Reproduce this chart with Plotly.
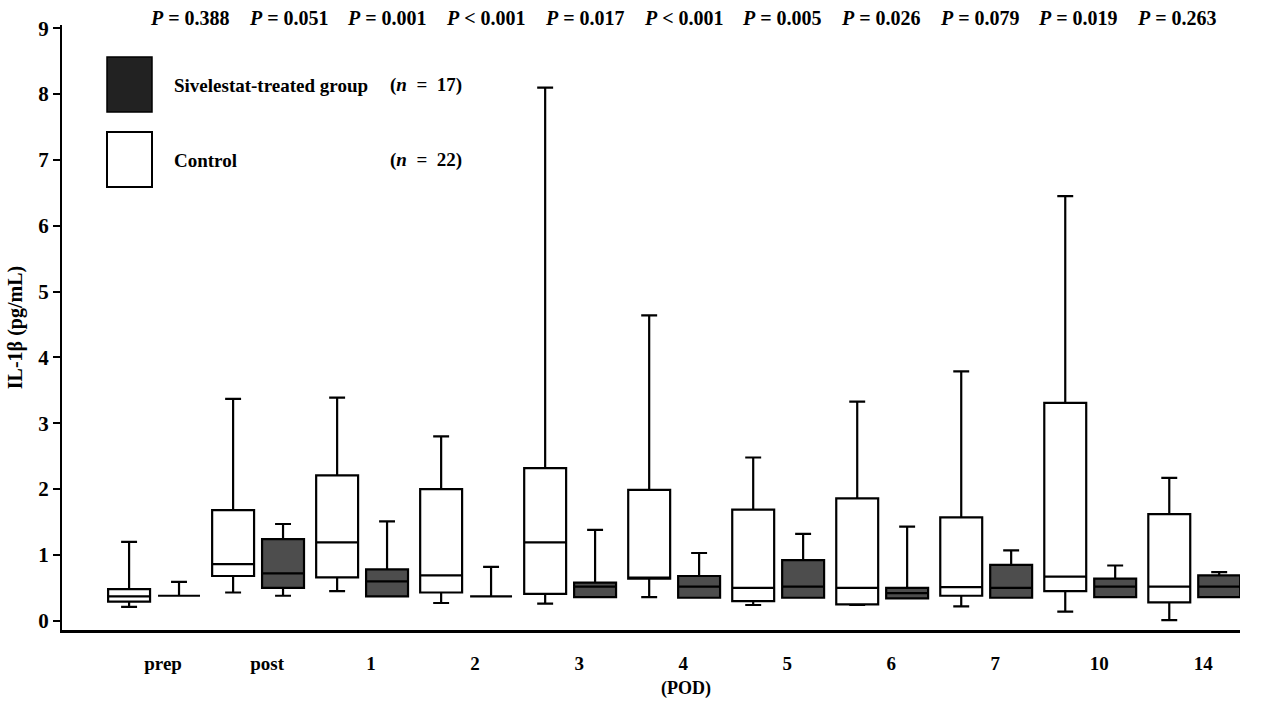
import plotly.graph_objects as go

# Post-operative day categories
days = ["prep", "post", "1", "2", "3", "4", "5", "6", "7", "10", "14"]

# Control group (n = 22): whisker ends, quartiles, median  (IL-1β, pg/mL)
ctrl_upper = [1.20, 3.37, 3.39, 2.80, 8.10, 4.64, 2.48, 3.33, 3.79, 6.45, 2.17]
ctrl_q3 = [0.48, 1.68, 2.21, 2.00, 2.32, 1.99, 1.69, 1.86, 1.57, 3.31, 1.62]
ctrl_median = [0.37, 0.86, 1.19, 0.69, 1.19, 0.64, 0.50, 0.50, 0.51, 0.67, 0.52]
ctrl_q1 = [0.29, 0.68, 0.66, 0.43, 0.41, 0.64, 0.30, 0.25, 0.38, 0.45, 0.28]
ctrl_lower = [0.21, 0.43, 0.45, 0.27, 0.26, 0.36, 0.24, 0.24, 0.22, 0.14, 0.01]

# Sivelestat-treated group (n = 17)
siv_upper = [0.59, 1.47, 1.51, 0.82, 1.38, 1.03, 1.32, 1.43, 1.07, 0.84, 0.74]
siv_q3 = [0.38, 1.24, 0.78, 0.37, 0.58, 0.68, 0.92, 0.50, 0.85, 0.64, 0.69]
siv_median = [0.38, 0.72, 0.60, 0.37, 0.52, 0.52, 0.52, 0.42, 0.50, 0.52, 0.52]
siv_q1 = [0.38, 0.50, 0.37, 0.37, 0.36, 0.35, 0.35, 0.34, 0.35, 0.36, 0.36]
siv_lower = [0.38, 0.38, 0.37, 0.37, 0.36, 0.35, 0.35, 0.34, 0.35, 0.36, 0.36]

# Between-group P values for each day
p_values = ["= 0.388", "= 0.051", "= 0.001", "< 0.001", "= 0.017", "< 0.001",
            "= 0.005", "= 0.026", "= 0.079", "= 0.019", "= 0.263"]

FONT = "Liberation Serif, Times New Roman, serif"
W, H = 1267, 708
ML, MR, MT, MB = 62, 27, 25, 78
plot_w = W - ML - MR
plot_h = H - MT - MB


def px2paper_x(px):
    return (px - ML) / plot_w


def py2paper_y(py):
    return 1 - (py - MT) / plot_h


fig = go.Figure()

fig.add_trace(go.Box(
    name="Control", x=days,
    q1=ctrl_q1, median=ctrl_median, q3=ctrl_q3,
    lowerfence=ctrl_lower, upperfence=ctrl_upper,
    boxpoints=False, fillcolor="white",
    line=dict(color="black", width=2.2), whiskerwidth=0.38,
    showlegend=False, hoverinfo="skip",
))
fig.add_trace(go.Box(
    name="Sivelestat", x=days,
    q1=siv_q1, median=siv_median, q3=siv_q3,
    lowerfence=siv_lower, upperfence=siv_upper,
    boxpoints=False, fillcolor="#4d4d4d",
    line=dict(color="black", width=2.2), whiskerwidth=0.38,
    showlegend=False, hoverinfo="skip",
))

# P-value row across the top
for i, p in enumerate(p_values):
    px = 190 + i * 98.7
    fig.add_annotation(
        x=px2paper_x(px), xref="paper", y=py2paper_y(18), yref="paper",
        yanchor="middle", xanchor="center", showarrow=False,
        text=f"<i>P</i> {p}",
        font=dict(family=FONT, size=20, color="black", weight="bold"),
    )

# Legend swatches and labels
fig.add_shape(type="rect", xref="paper", yref="paper",
              x0=px2paper_x(107), x1=px2paper_x(152), y0=py2paper_y(112), y1=py2paper_y(57),
              fillcolor="#222222", line=dict(color="black", width=1.5))
fig.add_shape(type="rect", xref="paper", yref="paper",
              x0=px2paper_x(107), x1=px2paper_x(152), y0=py2paper_y(187), y1=py2paper_y(132),
              fillcolor="white", line=dict(color="black", width=2))
for txt, xpx, ypx in [("Sivelestat-treated group", 172, 85), ("(<i>n</i>  =  17)", 388, 85),
                      ("Control", 172, 160), ("(<i>n</i>  =  22)", 388, 160)]:
    fig.add_annotation(x=px2paper_x(xpx), y=py2paper_y(ypx), xref="paper", yref="paper",
                       xanchor="left", yanchor="middle", showarrow=False, text=txt,
                       font=dict(family=FONT, size=19, color="black", weight="bold"))

# x-axis title
fig.add_annotation(x=px2paper_x(686), y=py2paper_y(688), xref="paper", yref="paper",
                   xanchor="center", yanchor="middle", showarrow=False, text="(POD)",
                   font=dict(family=FONT, size=18, color="black", weight="bold"))

fig.update_layout(
    width=W, height=H,
    margin=dict(l=ML, r=MR, t=MT, b=MB),
    paper_bgcolor="white", plot_bgcolor="white",
    boxmode="group", boxgap=0.04, boxgroupgap=0.16,
    font=dict(family=FONT, color="black"),
)
fig.update_xaxes(
    type="category", range=[-0.885, 10.44],
    showgrid=False, zeroline=False, showline=True, linecolor="black", linewidth=3,
    ticks="", tickfont=dict(family=FONT, size=19, color="black", weight="bold"),
    ticklabelshift=9, ticklabelstandoff=14,
)
fig.update_yaxes(
    range=[-0.14, 9.05], tickvals=list(range(10)),
    showgrid=False, zeroline=False, showline=True, linecolor="black", linewidth=2,
    ticks="outside", ticklen=7, tickwidth=1.5, tickcolor="black",
    tickfont=dict(family=FONT, size=21, color="black", weight="bold"),
    title=dict(text="IL-1β (pg/mL)",
               font=dict(family=FONT, size=20, color="black", weight="bold"),
               standoff=10),
)

fig.write_html("out.html")
